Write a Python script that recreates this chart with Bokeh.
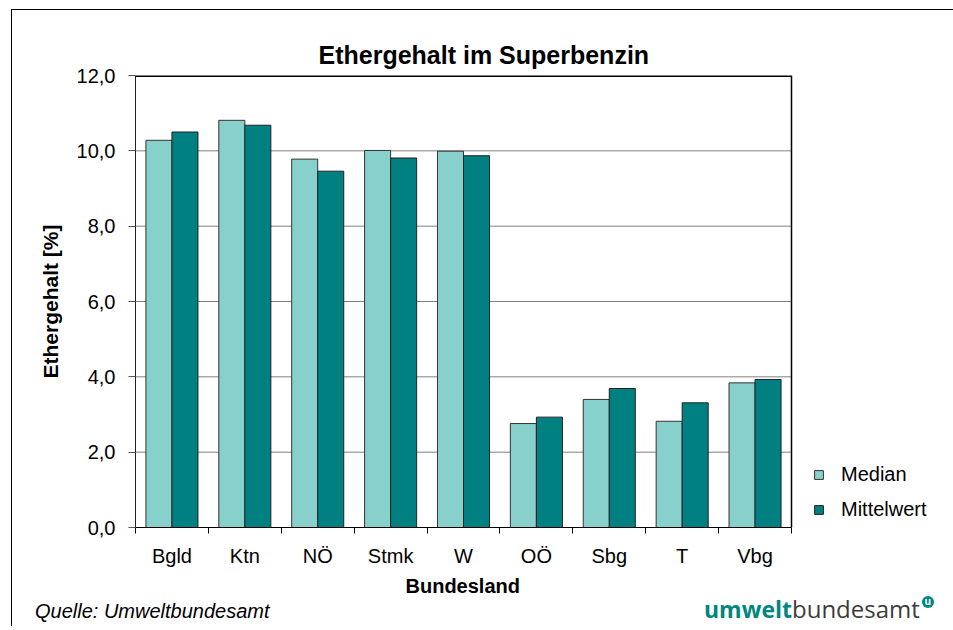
from bokeh.plotting import figure
from bokeh.models import (ColumnDataSource, Range1d, FixedTicker, Legend,
                          LegendItem, Title, Div, Span)
from bokeh.layouts import column, row
from bokeh.embed import file_html
from bokeh.resources import INLINE

# ---- data ----
bundeslaender = ["Bgld", "Ktn", "NÖ", "Stmk", "W", "OÖ", "Sbg", "T", "Vbg"]
median = [10.28, 10.81, 9.78, 10.01, 9.99, 2.76, 3.40, 2.82, 3.84]
mittelwert = [10.50, 10.68, 9.46, 9.81, 9.87, 2.93, 3.69, 3.31, 3.93]
y_ticks = [0, 2, 4, 6, 8, 10, 12]
series_names = ["Median", "Mittelwert"]
title_text = "Ethergehalt im Superbenzin"
x_title = "Bundesland"
y_title = "Ethergehalt [%]"
source_text = "Quelle: Umweltbundesamt"

FONT = "Liberation Sans"
C_MED = "#88D0CC"
C_MIT = "#008080"
C_LOGO = "#00857F"

# layout constants (pixels)
W, H = 941, 590
BORDER_L, BORDER_T, BORDER_B, BORDER_R = 123, 65, 72, 0
PLOT_PX = 656  # width of the visible plot box
n = len(bundeslaender)
x_end = n * (W - BORDER_L - BORDER_R) / PLOT_PX

p = figure(width=W, height=H, output_backend="svg", toolbar_location=None,
           x_range=Range1d(0, x_end), y_range=Range1d(0, y_ticks[-1]),
           min_border_left=BORDER_L, min_border_right=BORDER_R,
           min_border_top=BORDER_T, min_border_bottom=BORDER_B)
p.background_fill_color = "white"
p.border_fill_color = "white"
p.outline_line_color = None
p.xgrid.grid_line_color = None
p.ygrid.grid_line_color = None

# grid lines and box border limited to the category span
grid_y = y_ticks[1:-1]
p.segment(x0=[0] * len(grid_y), x1=[n] * len(grid_y), y0=grid_y, y1=grid_y,
          line_color="#808080", line_width=1)
p.segment(x0=[0], x1=[n], y0=[y_ticks[-1]], y1=[y_ticks[-1]],
          line_color="black", line_width=3)
p.add_layout(Span(location=n, dimension="height", line_color="black",
                  line_width=1.5))

bw = 0.357
centers = [i + 0.5 for i in range(n)]
src = ColumnDataSource(dict(xm=[c - bw / 2 for c in centers],
                            xw=[c + bw / 2 for c in centers],
                            med=median, mit=mittelwert))
r1 = p.vbar(x="xm", top="med", width=bw, source=src,
            fill_color=C_MED, line_color="#333333", line_width=1)
r2 = p.vbar(x="xw", top="mit", width=bw, source=src,
            fill_color=C_MIT, line_color="#222222", line_width=1)

# ---- axes ----
xa = p.xaxis[0]
xa.bounds = (0, n)
xa.ticker = FixedTicker(ticks=centers, minor_ticks=list(range(n + 1)))
xa.major_label_overrides = {c: name for c, name in zip(centers, bundeslaender)}
xa.major_tick_out = 0
xa.major_tick_in = 0
xa.minor_tick_out = 6
xa.minor_tick_in = 0
xa.minor_tick_line_color = "black"
xa.axis_line_color = "black"
xa.major_label_text_font = FONT
xa.major_label_text_font_size = "20px"
xa.major_label_text_color = "black"
xa.major_label_standoff = 11

ya = p.yaxis[0]
ya.ticker = FixedTicker(ticks=y_ticks)
ya.major_label_overrides = {t: f"{t:.1f}".replace(".", ",") for t in y_ticks}
ya.major_tick_out = 7
ya.major_tick_in = 0
ya.minor_tick_out = 0
ya.minor_tick_in = 0
ya.axis_line_color = "#222222"
ya.major_tick_line_color = "#555555"
ya.major_label_text_font = FONT
ya.major_label_text_font_size = "20px"
ya.major_label_text_color = "black"
ya.major_label_standoff = 13
ya.axis_label = y_title
ya.axis_label_text_font = FONT
ya.axis_label_text_font_size = "21px"
ya.axis_label_text_font_style = "bold"
ya.axis_label_text_color = "black"
ya.axis_label_standoff = 12

# ---- title ----
t = Title(text=title_text, align="left", offset=183, standoff=14,
          text_font=FONT, text_font_size="25px", text_font_style="bold",
          text_color="black")
p.add_layout(t, "above")

# x-axis title, centred under the plot box (not the wider frame)
xt = Title(text=x_title, align="left", offset=270, standoff=7,
           text_font=FONT, text_font_size="20px", text_font_style="bold",
           text_color="black")
p.add_layout(xt, "below")

# ---- legend (inside the wide frame, right of the plot box) ----
legend = Legend(items=[LegendItem(label=series_names[0], renderers=[r1]),
                       LegendItem(label=series_names[1], renderers=[r2])],
                location=(678, 6), orientation="vertical",
                glyph_width=11, glyph_height=11, label_standoff=17,
                label_text_font=FONT, label_text_font_size="20px",
                label_text_color="black",
                label_height=23, spacing=12, padding=0, margin=0,
                border_line_color=None, background_fill_alpha=0)
p.add_layout(legend, "center")

# ---- footer (source + logo) ----
quelle = Div(text=f"<span style=\"font-family:'{FONT}';font-style:italic;"
                  f"font-size:20px;line-height:23px;white-space:nowrap;color:black\">"
                  f"{source_text}</span>",
             width=300, height=26, margin=(0, 0, 0, 23))
logo_html = (
    "<span style=\"font-family:'Open Sans';font-size:24px;line-height:23px;"
    "position:relative;top:-4px;white-space:nowrap\">"
    f"<span style=\"font-weight:bold;font-size:23px;color:{C_LOGO}\">umwelt</span>"
    "<span style=\"color:#3c3c3c\">bundesamt</span>"
    f"<span style=\"display:inline-block;width:12px;height:12px;border-radius:50%;"
    f"background:{C_LOGO};color:white;font-size:10px;font-weight:bold;"
    "line-height:11px;text-align:center;vertical-align:13px;margin-left:2px\">u</span>"
    "</span>")
logo = Div(text=logo_html, width=240, height=26, margin=(0, 0, 0, 369))
footer = row(quelle, logo, spacing=0)

root = column(p, footer, spacing=0, margin=(9, 0, 0, 11),
              styles={"border-left": "1px solid black", "border-top": "1px solid black"})

open("out.html", "w").write(file_html(root, INLINE))
